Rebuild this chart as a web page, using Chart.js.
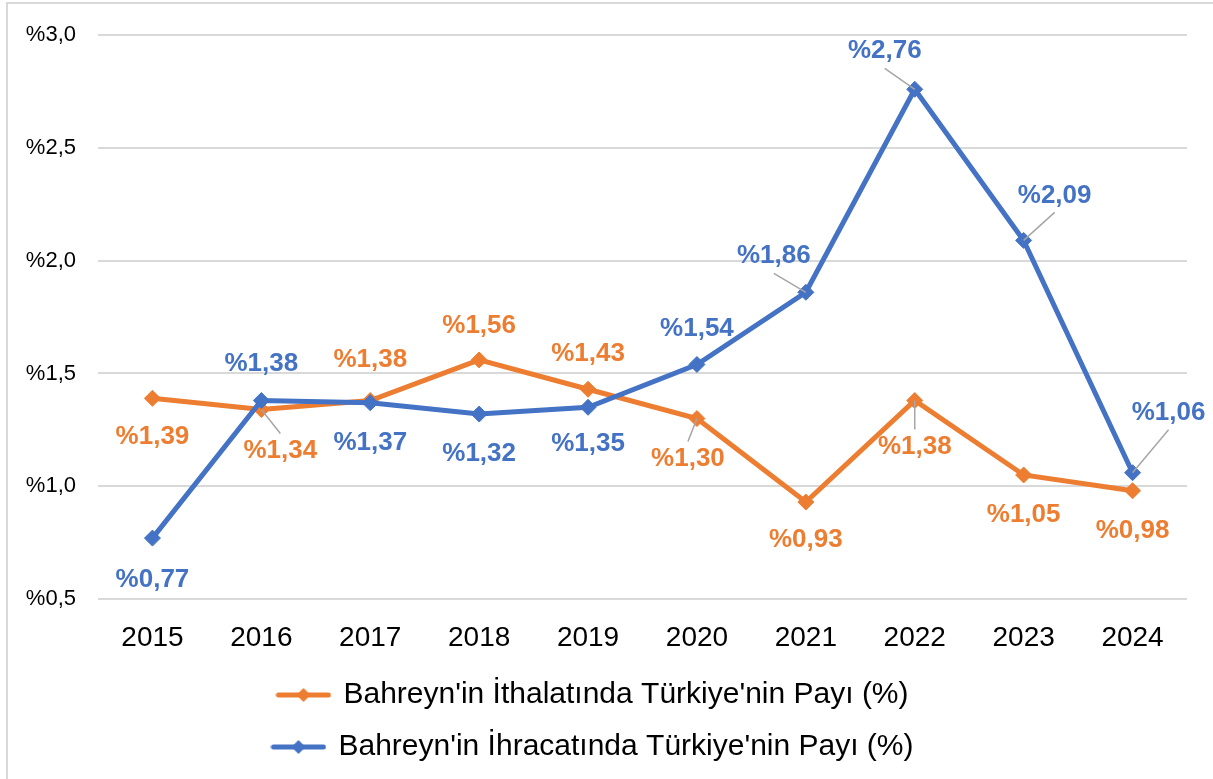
<!DOCTYPE html>
<html>
<head>
<meta charset="utf-8">
<script src="https://cdn.jsdelivr.net/npm/chart.js@4.4.1/dist/chart.umd.min.js"></script>
<style>
  html, body { margin: 0; padding: 0; background: #fff; }
  #frame { position: absolute; left: 6px; top: 2px; width: 1300px; height: 900px;
           border-left: 2px solid #d9d9d9; border-top: 2px solid #d9d9d9; }
  #wrap { position: absolute; left: 0; top: 0; width: 1213px; height: 779px; }
</style>
</head>
<body>
<div id="frame"></div>
<div id="wrap"><canvas id="chart"></canvas></div>
<script>
// Data
const years = ['2015', '2016', '2017', '2018', '2019', '2020', '2021', '2022', '2023', '2024'];
const importShare = [1.39, 1.34, 1.38, 1.56, 1.43, 1.30, 0.93, 1.38, 1.05, 0.98];
const exportShare = [0.77, 1.38, 1.37, 1.32, 1.35, 1.54, 1.86, 2.76, 2.09, 1.06];
const yTicks = [0.5, 1.0, 1.5, 2.0, 2.5, 3.0];

const importLabel = "Bahreyn'in İthalatında Türkiye'nin Payı (%)";
const exportLabel = "Bahreyn'in İhracatında Türkiye'nin Payı (%)";

const orange = '#ED7D31';
const blue = '#4472C4';

// where each value label sits relative to its point, and which ones get a leader line
const importLabelPos = [[0, 39], [19, 41], [0, -41], [0, -34], [0, -35], [-9, 40], [0, 38], [0, 46], [0, 40], [0, 40]];
const importLeader = [0, 1, 0, 0, 0, 1, 0, 1, 0, 0];
const exportLabelPos = [[0, 42], [0, -37], [0, 40], [0, 40], [0, 37], [0, -36], [-32, -36], [-30, -38], [31, -45], [36, -60]];
const exportLeader = [0, 0, 0, 0, 0, 0, 1, 1, 1, 1];

function pct(v, digits) {
    return '%' + v.toFixed(digits).replace('.', ',');
}

// legend marker: short thick line with a diamond in the middle
function legendMarker(color) {
    const c = document.createElement('canvas');
    c.width = 56;
    c.height = 16;
    const g = c.getContext('2d');
    g.strokeStyle = color;
    g.lineWidth = 5;
    g.lineCap = 'round';
    g.beginPath();
    g.moveTo(3, 8);
    g.lineTo(53, 8);
    g.stroke();
    g.fillStyle = color;
    g.beginPath();
    g.moveTo(28, 1);
    g.lineTo(35, 8);
    g.lineTo(28, 15);
    g.lineTo(21, 8);
    g.closePath();
    g.fill();
    return c;
}

const valueLabels = {
    id: 'valueLabels',
    afterDatasetsDraw(chart) {
        const ctx = chart.ctx;
        const setups = [
            { pos: importLabelPos, leader: importLeader, color: orange, values: importShare },
            { pos: exportLabelPos, leader: exportLeader, color: blue, values: exportShare }
        ];
        ctx.save();
        ctx.font = 'bold 26px "Liberation Sans", Arial, sans-serif';
        ctx.textAlign = 'center';
        ctx.textBaseline = 'middle';
        setups.forEach((s, di) => {
            const meta = chart.getDatasetMeta(di);
            meta.data.forEach((pt, i) => {
                const lx = pt.x + s.pos[i][0];
                const ly = pt.y + s.pos[i][1];
                if (s.leader[i]) {
                    const endY = ly + (s.pos[i][1] < 0 ? 17 : -17);
                    ctx.strokeStyle = '#a6a6a6';
                    ctx.lineWidth = 1.5;
                    ctx.beginPath();
                    ctx.moveTo(pt.x, pt.y);
                    ctx.lineTo(lx, endY);
                    ctx.stroke();
                }
                ctx.fillStyle = s.color;
                ctx.fillText(pct(s.values[i], 2), lx, ly);
            });
        });
        ctx.restore();
    }
};

const markers = [legendMarker(orange), legendMarker(blue)];

new Chart(document.getElementById('chart'), {
    type: 'line',
    data: {
        labels: years,
        datasets: [{
            label: importLabel,
            data: importShare,
            borderColor: orange,
            backgroundColor: orange,
            borderWidth: 5,
            pointStyle: 'rectRot',
            pointRadius: 8,
            pointBorderWidth: 1,
            tension: 0,
            order: 1
        }, {
            label: exportLabel,
            data: exportShare,
            borderColor: blue,
            backgroundColor: blue,
            borderWidth: 5,
            pointStyle: 'rectRot',
            pointRadius: 8,
            pointBorderWidth: 1,
            tension: 0,
            order: 0
        }]
    },
    options: {
        responsive: true,
        maintainAspectRatio: false,
        animation: false,
        layout: {
            padding: { top: 26, right: 26, bottom: 7, left: 0 }
        },
        scales: {
            x: {
                offset: true,
                grid: { display: false, drawTicks: false },
                border: { display: false },
                afterFit: (scale) => { scale.height = 59; },
                ticks: {
                    color: '#000',
                    padding: 22,
                    font: { family: '"Liberation Sans", Arial, sans-serif', size: 28 }
                }
            },
            y: {
                min: 0.5,
                max: 3.0,
                afterBuildTicks: (scale) => {
                    scale.ticks = yTicks.map(v => ({ value: v }));
                },
                afterFit: (scale) => { scale.width = 98; },
                grid: { color: '#d9d9d9', lineWidth: 2, drawTicks: false },
                border: { display: false },
                ticks: {
                    color: '#000',
                    padding: 22,
                    font: { family: '"Liberation Sans", Arial, sans-serif', size: 22 },
                    callback: (v) => pct(v, 1)
                }
            }
        },
        plugins: {
            tooltip: { enabled: false },
            legend: {
                position: 'bottom',
                labels: {
                    color: '#000',
                    usePointStyle: true,
                    pointStyleWidth: 50,
                    padding: 22,
                    font: { family: '"Liberation Sans", Arial, sans-serif', size: 30 },
                    sort: (a, b) => a.datasetIndex - b.datasetIndex,
                    generateLabels: (chart) => {
                        const items = Chart.defaults.plugins.legend.labels.generateLabels(chart);
                        items.forEach(it => { it.pointStyle = markers[it.datasetIndex]; });
                        return items;
                    }
                }
            }
        }
    },
    plugins: [valueLabels]
});
</script>
</body>
</html>
